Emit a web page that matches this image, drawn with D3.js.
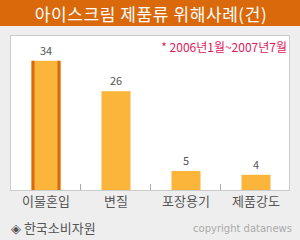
<!DOCTYPE html>
<html><head><meta charset="utf-8">
<script src="https://cdn.jsdelivr.net/npm/d3@7"></script>
<style>body{margin:0;background:#eeeeee;}svg{display:block;}</style>
</head><body>
<script>
const categories = ["이물혼입", "변질", "포장용기", "제품강도"];
const values = [34, 26, 5, 4];
const title = "아이스크림 제품류 위해사례(건)";
const note = "* 2006년1월~2007년7월";
const source = "◈ 한국소비자원";
const copyright = "copyright datanews";

const W = 300, H = 240;
const svg = d3.select("body").append("svg").attr("width", W).attr("height", H);
const font = "'Noto Sans CJK KR', 'Noto Sans', sans-serif";

svg.append("rect").attr("width", W).attr("height", H).attr("fill", "#eeeeee");
svg.append("rect").attr("width", W).attr("height", 26).attr("fill", "#d9690b");
svg.append("text").attr("x", 151).attr("y", 13).attr("text-anchor", "middle")
  .attr("dominant-baseline", "central").attr("fill", "#fff")
  .attr("font-family", font).attr("font-size", 17).attr("letter-spacing", 0.6).text(title);

const L = 10, R = 290, T = 35, B = 190;
svg.append("rect").attr("x", L + 0.5).attr("y", T + 0.5).attr("width", R - L - 1).attr("height", B - T)
  .attr("fill", "#fff").attr("stroke", "#cccccc");

const xb = d3.scaleBand().domain(categories).range([L, R]);
const y = d3.scaleLinear().domain([0, 40]).range([B, B - 152]);

svg.selectAll(".tk").data(categories.slice(1)).enter().append("line")
  .attr("x1", d => xb(d) + 0.5).attr("x2", d => xb(d) + 0.5)
  .attr("y1", B - 6).attr("y2", B).attr("stroke", "#aaaaaa");
svg.append("line").attr("x1", L).attr("x2", R).attr("y1", B + 0.5).attr("y2", B + 0.5).attr("stroke", "#cccccc");

const bw = 29;
const bx = d => xb(d) + xb.bandwidth() / 2 - bw / 2 + 1;
svg.selectAll(".bar").data(values).enter().append("rect")
  .attr("x", (d, i) => bx(categories[i])).attr("y", d => y(d))
  .attr("width", bw).attr("height", d => B - y(d)).attr("fill", "#fbb53b");
[0, bw - 3].forEach(off => {
  svg.append("rect").attr("x", bx(categories[0]) + off).attr("y", y(values[0]))
    .attr("width", 3).attr("height", B - y(values[0])).attr("fill", "#d9690b");
});

svg.selectAll(".val").data(values).enter().append("text")
  .attr("x", (d, i) => bx(categories[i]) + bw / 2).attr("y", d => y(d) - 6)
  .attr("text-anchor", "middle").attr("fill", "#555").attr("font-family", font)
  .attr("font-size", 11).text(d => d);

svg.selectAll(".cat").data(categories).enter().append("text")
  .attr("x", d => xb(d) + xb.bandwidth() / 2 + 1).attr("y", 200)
  .attr("text-anchor", "middle").attr("dominant-baseline", "central")
  .attr("fill", "#555").attr("font-family", font).attr("font-size", 13).text(d => d);

svg.append("text").attr("x", 287).attr("y", 46).attr("text-anchor", "end")
  .attr("dominant-baseline", "central").attr("fill", "#e0195a")
  .attr("font-family", font).attr("font-size", 12).text(note);

svg.append("text").attr("x", 11).attr("y", 227).attr("dominant-baseline", "central")
  .attr("fill", "#555").attr("font-family", font).attr("font-size", 13).text(source);

svg.append("text").attr("x", 292).attr("y", 228).attr("text-anchor", "end")
  .attr("dominant-baseline", "central").attr("fill", "#aaaaaa")
  .attr("font-family", "'DejaVu Sans', sans-serif").attr("font-size", 10).text(copyright);
</script>
</body></html>
